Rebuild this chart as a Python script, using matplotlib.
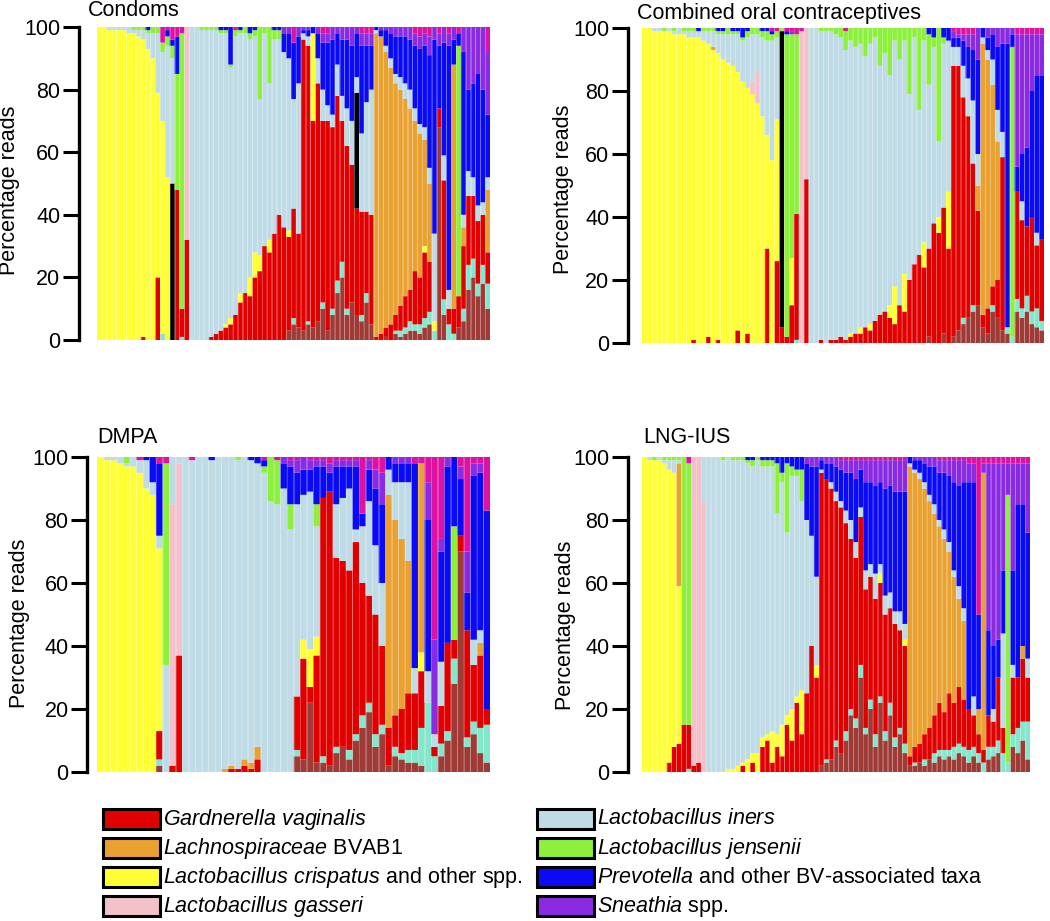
import numpy as np
import matplotlib
matplotlib.use('Agg')
import matplotlib.pyplot as plt
from matplotlib.patches import Rectangle

plt.rcParams['font.family'] = ['Liberation Sans', 'DejaVu Sans']
plt.rcParams['mathtext.fontset'] = 'custom'
plt.rcParams['mathtext.rm'] = 'Liberation Sans'
plt.rcParams['mathtext.it'] = 'Liberation Sans:italic'

# stacking order, bottom to top; whatever is left up to 100 is "other" (magenta)
order = ['brown', 'aqua', 'gv', 'black', 'crisp', 'gass', 'bvab1', 'iners', 'jens', 'prev', 'snea']
colours = {
    'brown': '#9e3b36', 'aqua': '#84e6cc', 'gv': '#e00000', 'black': '#000000',
    'crisp': '#ffff33', 'gass': '#f2c1c9', 'bvab1': '#e9a232', 'iners': '#bfdbe5',
    'jens': '#8cf03c', 'prev': '#0a0af5', 'snea': '#8a2be2', 'other': '#de12a2',
}

# ---------------- Condoms (81 samples: 19 | 23 | 15 | 12 | 12) ----------------
cond_brown = [0, 0, 0, 0, 0,  0, 0, 0, 0, 0,  0, 0, 0, 0, 0,  0, 0, 0, 0,
              0, 0, 0, 0, 0,  0, 0, 0, 0, 0,  0, 0, 0, 0, 0,  0, 0, 0, 0, 0,  3, 5, 4,
              3, 5, 4, 6, 10,  3, 8, 15, 20, 8,  12, 8, 6, 12, 5,
              0, 0, 1, 0, 2,  1, 2, 3, 3, 2,  4, 5,
              0, 68, 8, 0, 0,  4, 6, 16, 20, 14,  18, 10]
cond_aqua = [0, 0, 0, 0, 0,  0, 0, 0, 0, 0,  0, 0, 0, 2, 0,  0, 0, 1, 0,
             0, 0, 0, 0, 0,  0, 0, 0, 0, 0,  0, 0, 0, 0, 0,  0, 0, 0, 0, 0,  0, 2, 0,
             0, 1, 0, 0, 2,  0, 2, 4, 5, 2,  0, 0, 2, 3, 0,
             0, 0, 0, 0, 1,  2, 2, 3, 2, 3,  3, 4,
             3, 0, 5, 5, 2,  0, 4, 8, 6, 4,  6, 8]
cond_gv = [0, 0, 0, 0, 0,  0, 0, 0, 0, 1,  0, 0, 20, 0, 0,  0, 48, 9, 32,
           0, 0, 0, 0, 1,  2, 3, 4, 5, 8,  12, 15, 14, 20, 22,  30, 28, 34, 40, 36,  30, 35, 30,
           93, 88, 66, 76, 58,  67, 58, 59, 45, 52,  44, 34, 33, 26, 35,
           1, 2, 3, 5, 5,  8, 10, 10, 17, 15,  21, 16,
           0, 6, 38, 5, 8,  10, 20, 22, 20, 20,  16, 10]
cond_black = [0, 0, 0, 0, 0,  0, 0, 0, 0, 0,  0, 0, 0, 0, 0,  50, 0, 0, 0,
              0, 0, 0, 0, 0,  0, 0, 0, 0, 0,  0, 0, 0, 0, 0,  0, 0, 0, 0, 0,  0, 0, 0,
              0, 0, 0, 0, 0,  0, 0, 0, 0, 0,  0, 37, 0, 0, 0,
              0, 0, 0, 0, 0,  0, 0, 0, 0, 0,  0, 0,
              0, 0, 0, 0, 0,  0, 0, 0, 0, 0,  0, 0]
cond_crisp = [100, 100, 99, 99, 99,  99, 98, 98, 97, 95,  93, 90, 59, 68, 52,  0, 0, 0, 0,
              0, 0, 0, 0, 0,  0, 0, 1, 2, 0,  3, 0, 6, 8, 5,  0, 4, 0, 0, 0,  2, 0, 0,
              0, 0, 28, 0, 0,  0, 0, 0, 0, 0,  0, 0, 0, 0, 0,
              0, 0, 0, 0, 0,  0, 0, 0, 0, 0,  2, 0,
              3, 0, 0, 0, 0,  0, 0, 0, 0, 0,  0, 0]
cond_gass = [0, 0, 0, 0, 0,  0, 0, 0, 0, 0,  0, 0, 0, 0, 0,  0, 0, 0, 68,
             0, 0, 0, 0, 0,  0, 0, 0, 0, 0,  0, 0, 0, 0, 0,  0, 0, 0, 0, 0,  0, 0, 0,
             0, 0, 0, 0, 0,  0, 0, 0, 0, 0,  0, 0, 0, 0, 0,
             0, 0, 0, 0, 0,  0, 0, 0, 0, 0,  0, 0,
             0, 0, 0, 0, 0,  0, 0, 0, 0, 0,  0, 0]
cond_bvab1 = [0, 0, 0, 0, 0,  0, 0, 0, 0, 0,  0, 0, 0, 0, 0,  0, 0, 0, 0,
              0, 0, 0, 0, 0,  0, 0, 0, 0, 0,  0, 0, 0, 0, 0,  0, 0, 0, 0, 0,  0, 0, 0,
              0, 0, 0, 0, 0,  0, 0, 0, 0, 0,  0, 0, 0, 0, 0,
              97, 95, 88, 82, 74,  69, 63, 58, 48, 46,  34, 25,
              0, 0, 0, 0, 78,  0, 6, 0, 0, 0,  0, 20]
cond_iners = [0, 0, 1, 1, 1,  1, 2, 1, 2, 3,  5, 8, 19, 22, 42,  40, 0, 0, 0,
              100, 100, 99, 99, 98,  97, 95, 93, 80, 89,  83, 83, 76, 69, 50,  68, 50, 62, 56, 56,  55, 35, 48,
              2, 3, 0, 8, 10,  5, 4, 10, 8, 12,  14, 5, 25, 35, 40,
              1, 0, 2, 3, 3,  4, 5, 6, 4, 3,  4, 5,
              28, 0, 8, 6, 0,  0, 4, 8, 6, 5,  4, 4]
cond_jens = [0, 0, 0, 0, 0,  0, 0, 1, 1, 1,  1, 2, 2, 3, 3,  4, 37, 88, 0,
             0, 0, 1, 1, 1,  1, 1, 1, 1, 2,  1, 2, 2, 2, 23,  2, 18, 3, 3, 0,  0, 0, 0,
             0, 0, 0, 0, 0,  0, 0, 0, 0, 0,  0, 0, 0, 0, 0,
             0, 0, 0, 0, 0,  0, 0, 0, 0, 0,  0, 0,
             0, 0, 0, 0, 0,  80, 0, 0, 0, 0,  0, 0]
cond_prev = [0, 0, 0, 0, 0,  0, 0, 0, 0, 0,  1, 0, 0, 0, 2,  2, 12, 0, 0,
             0, 0, 0, 0, 0,  0, 1, 1, 12, 0,  1, 0, 2, 1, 0,  0, 0, 1, 1, 6,  8, 18, 15,
             1, 2, 2, 8, 15,  20, 24, 10, 18, 22,  24, 14, 28, 18, 14,
             1, 2, 5, 8, 12,  13, 15, 16, 20, 24,  26, 36,
             62, 20, 36, 78, 8,  4, 52, 26, 30, 42,  36, 20]
cond_snea = [0, 0, 0, 0, 0,  0, 0, 0, 0, 0,  0, 0, 0, 0, 0,  0, 0, 0, 0,
             0, 0, 0, 0, 0,  0, 0, 0, 0, 0,  0, 0, 0, 0, 0,  0, 0, 0, 0, 2,  2, 0, 3,
             1, 1, 0, 2, 3,  3, 4, 2, 4, 4,  6, 2, 4, 4, 4,
             0, 1, 1, 2, 3,  3, 3, 4, 4, 4,  4, 6,
             4, 4, 5, 4, 4,  0, 8, 20, 18, 15,  20, 20]

# ---------------- Combined oral contraceptives (82 samples: 28 | 6 | 29 | 19) ----------------
coc_brown = [0, 0, 0, 0, 0,  0, 0, 0, 0, 0,  0, 0, 0, 0, 0,  0, 0, 0, 0, 0,  0, 0, 0, 0, 0,  0, 0, 0,
             0, 0, 0, 0, 0,  0,
             0, 0, 0, 0, 0,  0, 0, 0, 0, 0,  0, 0, 0, 0, 0,  0, 0, 0, 0, 0,  0, 0, 0, 0, 2,  0, 0, 3, 0,
             2, 4, 6, 8, 10,  12, 5, 3, 10, 8,  4, 3, 0, 10, 8,  10, 6, 5, 4]
coc_aqua = [0, 0, 0, 0, 0,  0, 0, 0, 0, 0,  0, 0, 0, 0, 0,  0, 0, 0, 0, 0,  0, 0, 0, 0, 0,  0, 0, 0,
            0, 0, 0, 1, 0,  0,
            0, 0, 0, 0, 0,  0, 0, 0, 0, 0,  0, 0, 0, 0, 0,  0, 0, 0, 0, 0,  0, 0, 0, 0, 0,  0, 0, 0, 0,
            0, 0, 2, 0, 2,  0, 0, 0, 2, 0,  0, 2, 2, 4, 3,  5, 4, 6, 3]
coc_gv = [0, 0, 0, 0, 0,  0, 0, 0, 0, 0,  1, 0, 0, 2, 0,  1, 0, 0, 0, 4,  0, 3, 0, 0, 0,  30, 0, 26,
          5, 2, 12, 40, 0,  52,
          0, 0, 1, 0, 1,  1, 2, 1, 2, 3,  3, 5, 4, 7, 9,  10, 8, 6, 12, 10,  20, 25, 28, 24, 28,  38, 35, 40, 30,
          86, 84, 70, 64, 45,  30, 4, 8, 6, 12,  55, 0, 0, 34, 28,  22, 30, 20, 26]
coc_black = [0, 0, 0, 0, 0,  0, 0, 0, 0, 0,  0, 0, 0, 0, 0,  0, 0, 0, 0, 0,  0, 0, 0, 0, 0,  0, 0, 0,
             94, 0, 0, 0, 0,  0,
             0, 0, 0, 0, 0,  0, 0, 0, 0, 0,  0, 0, 0, 0, 0,  0, 0, 0, 0, 0,  0, 0, 0, 0, 0,  0, 0, 0, 0,
             0, 0, 0, 0, 0,  0, 0, 0, 0, 0,  0, 0, 0, 0, 0,  0, 0, 0, 0]
coc_crisp = [100, 100, 99, 99, 99,  99, 98, 98, 98, 97,  96, 97, 96, 93, 93,  91, 90, 89, 88, 82,  83, 78, 79, 76, 72,  36, 58, 45,
             0, 0, 15, 0, 0,  0,
             0, 0, 0, 0, 0,  0, 0, 0, 1, 0,  2, 0, 2, 0, 0,  0, 4, 12, 0, 12,  0, 0, 0, 8, 0,  0, 5, 0, 18,
             0, 0, 0, 0, 0,  0, 0, 0, 0, 0,  0, 0, 0, 0, 0,  0, 0, 0, 0]
coc_gass = [0, 0, 0, 0, 0,  0, 0, 0, 0, 0,  0, 0, 0, 0, 0,  0, 0, 0, 0, 0,  0, 0, 4, 10, 0,  0, 0, 0,
            0, 0, 0, 0, 99,  48,
            0, 0, 0, 0, 0,  0, 0, 0, 0, 0,  0, 0, 0, 0, 0,  0, 0, 0, 0, 0,  0, 0, 0, 0, 0,  0, 0, 0, 0,
            0, 0, 0, 0, 0,  0, 0, 0, 0, 0,  0, 0, 0, 0, 0,  0, 0, 0, 0]
coc_bvab1 = [0, 0, 0, 0, 0,  0, 0, 0, 0, 0,  0, 0, 0, 0, 1,  0, 0, 0, 0, 0,  0, 0, 0, 0, 0,  0, 0, 0,
             0, 0, 0, 0, 0,  0,
             0, 0, 0, 0, 0,  0, 0, 0, 0, 0,  0, 0, 0, 0, 0,  0, 0, 0, 0, 0,  0, 0, 0, 0, 0,  0, 0, 0, 0,
             0, 0, 0, 0, 0,  8, 86, 79, 64, 44,  0, 0, 0, 0, 0,  0, 0, 0, 0]
coc_iners = [0, 0, 1, 1, 0,  1, 1, 2, 1, 2,  2, 2, 3, 4, 5,  6, 8, 9, 10, 12,  13, 16, 15, 12, 25,  30, 38, 26,
             0, 0, 0, 0, 0,  0,
             100, 100, 98, 99, 98,  97, 95, 92, 93, 91,  90, 86, 89, 90, 79,  82, 73, 78, 78, 74,  59, 72, 46, 64, 52,  56, 24, 52, 48,
             6, 6, 10, 12, 20,  10, 2, 3, 8, 10,  8, 0, 0, 0, 6,  0, 0, 4, 0]
coc_jens = [0, 0, 0, 0, 1,  0, 1, 0, 1, 1,  1, 0, 1, 1, 1,  1, 1, 2, 1, 1,  1, 2, 2, 2, 2,  3, 2, 2,
            1, 96, 71, 57, 0,  0,
            0, 0, 1, 1, 1,  2, 3, 6, 4, 6,  5, 9, 5, 3, 12,  8, 15, 4, 10, 4,  21, 3, 26, 4, 16,  3, 36, 2, 0,
            0, 0, 0, 0, 0,  0, 0, 0, 0, 0,  0, 0, 92, 0, 0,  0, 0, 0, 0]
coc_prev = [0, 0, 0, 0, 0,  0, 0, 0, 0, 0,  0, 1, 0, 0, 0,  1, 1, 0, 1, 1,  3, 1, 0, 0, 1,  1, 1, 0,
            0, 1, 0, 0, 0,  0,
            0, 0, 0, 0, 0,  0, 0, 0, 0, 0,  0, 0, 0, 0, 0,  0, 0, 0, 0, 0,  0, 0, 0, 0, 2,  3, 0, 3, 4,
            3, 3, 8, 10, 16,  30, 3, 4, 8, 20,  28, 90, 4, 8, 15,  25, 40, 50, 52]
coc_snea = [0, 0, 0, 0, 0,  0, 0, 0, 0, 0,  0, 0, 0, 0, 0,  0, 0, 0, 0, 0,  0, 0, 0, 0, 0,  0, 0, 0,
            0, 0, 1, 0, 0,  0,
            0, 0, 0, 0, 0,  0, 0, 0, 0, 0,  0, 0, 0, 0, 0,  0, 0, 0, 0, 0,  0, 0, 0, 0, 0,  0, 0, 0, 0,
            2, 1, 2, 4, 5,  10, 0, 3, 2, 6,  5, 5, 2, 42, 38,  36, 18, 13, 13]

# ---------------- DMPA (60 samples: 10 | 3 | 17 | 14 | 4 | 12) ----------------
dmpa_brown = [0, 0, 0, 0, 0,  0, 0, 0, 0, 2,
              0, 0, 0,
              0, 0, 0, 0, 0,  0, 0, 0, 0, 0,  0, 0, 0, 0, 0,  0, 0,
              5, 4, 22, 3, 3,  2, 6, 8, 4, 10,  14, 19, 8, 12,
              2, 5, 4, 3,
              3, 2, 0, 0, 5,  10, 28, 70, 8, 12,  6, 3]
dmpa_aqua = [0, 0, 0, 0, 0,  0, 0, 0, 0, 2,
             0, 0, 0,
             0, 0, 0, 0, 0,  0, 0, 0, 0, 0,  0, 0, 0, 0, 0,  0, 0,
             2, 0, 0, 0, 2,  0, 2, 0, 3, 2,  4, 3, 4, 3,
             0, 3, 2, 4,
             4, 12, 22, 5, 4,  3, 8, 0, 3, 4,  8, 12]
dmpa_gv = [0, 0, 0, 0, 0,  0, 0, 0, 0, 9,
           0, 2, 37,
           0, 0, 0, 0, 0,  0, 0, 1, 1, 2,  1, 4, 0, 0, 0,  0, 0,
           17, 32, 5, 34, 82,  87, 60, 59, 57, 61,  42, 34, 38, 25,
           12, 10, 14, 18,
           18, 18, 0, 3, 12,  28, 6, 5, 34, 18,  23, 5]
dmpa_crisp = [100, 99, 99, 98, 97,  97, 95, 90, 88, 58,
              0, 0, 0,
              0, 0, 0, 0, 0,  0, 0, 0, 0, 0,  0, 0, 0, 0, 0,  0, 0,
              0, 6, 12, 6, 0,  0, 0, 0, 0, 0,  0, 0, 0, 0,
              0, 0, 0, 0,
              0, 6, 0, 0, 0,  0, 0, 0, 0, 0,  0, 0]
dmpa_gass = [0, 0, 0, 0, 0,  0, 0, 0, 0, 0,
             0, 83, 61,
             0, 0, 0, 0, 0,  0, 0, 0, 0, 0,  0, 0, 0, 0, 0,  0, 0,
             0, 0, 0, 0, 0,  0, 0, 0, 0, 0,  0, 0, 0, 0,
             0, 0, 0, 0,
             0, 0, 0, 0, 0,  0, 0, 0, 0, 0,  0, 0]
dmpa_bvab1 = [0, 0, 0, 0, 0,  0, 0, 0, 0, 0,
              0, 0, 0,
              0, 0, 0, 0, 0,  0, 1, 1, 0, 2,  2, 4, 0, 0, 0,  0, 0,
              0, 0, 0, 0, 0,  0, 0, 0, 0, 0,  0, 0, 0, 0,
              74, 62, 54, 42,
              0, 60, 0, 0, 0,  0, 0, 0, 0, 0,  4, 0]
dmpa_iners = [0, 1, 1, 2, 1,  3, 4, 9, 4, 4,
              34, 15, 2,
              100, 99, 100, 100, 99,  100, 99, 98, 98, 96,  96, 90, 95, 86, 85,  90, 77,
              61, 46, 50, 35, 0,  0, 17, 20, 26, 4,  18, 30, 22, 20,
              8, 12, 18, 25,
              8, 0, 10, 4, 14,  0, 0, 0, 0, 8,  4, 0]
dmpa_jens = [0, 0, 0, 0, 2,  0, 0, 0, 0, 0,
             64, 0, 0,
             0, 0, 0, 0, 0,  0, 0, 0, 1, 0,  0, 0, 2, 14, 14,  0, 8,
             0, 0, 0, 7, 0,  0, 0, 0, 0, 0,  0, 0, 0, 0,
             0, 0, 0, 0,
             0, 0, 0, 0, 0,  0, 36, 0, 0, 0,  0, 0]
dmpa_prev = [0, 0, 0, 0, 0,  0, 0, 1, 8, 23,
             0, 0, 0,
             0, 0, 0, 0, 1,  0, 0, 0, 0, 0,  1, 2, 2, 0, 0,  8, 12,
             10, 8, 7, 12, 10,  6, 12, 10, 7, 20,  4, 10, 18, 25,
             4, 6, 6, 6,
             65, 0, 48, 0, 35,  56, 22, 18, 12, 52,  50, 63]
dmpa_snea = [0, 0, 0, 0, 0,  0, 0, 0, 0, 0,
             0, 0, 0,
             0, 0, 0, 0, 0,  0, 0, 0, 0, 0,  0, 0, 0, 0, 0,  2, 2,
             4, 4, 3, 2, 2,  3, 2, 2, 2, 2,  0, 3, 6, 10,
             0, 2, 2, 2,
             0, 0, 12, 30, 4,  3, 0, 4, 13, 4,  3, 0]

# ---------------- LNG-IUS (79 samples: 8 | 5 | 23 | 18 | 11 | 14) ----------------
lng_brown = [0, 0, 0, 0, 0,  0, 0, 0,
             0, 0, 0, 0, 0,
             0, 0, 0, 0, 0,  0, 0, 0, 0, 0,  0, 0, 0, 0, 0,  0, 0, 0, 0, 0,  0, 0, 0,
             2, 3, 4, 8, 6,  10, 18, 14, 30, 12,  20, 8, 22, 10, 18,  8, 12, 6,
             2, 2, 3, 2, 4,  3, 5, 4, 5, 4,  6,
             5, 3, 5, 3, 0,  4, 5, 6, 0, 0,  8, 6, 10, 4]
lng_aqua = [0, 0, 0, 0, 0,  0, 0, 0,
            0, 1, 0, 0, 0,
            0, 0, 0, 0, 0,  0, 0, 0, 0, 0,  0, 0, 0, 0, 0,  0, 0, 0, 0, 0,  0, 0, 0,
            0, 1, 0, 2, 0,  3, 2, 3, 4, 2,  3, 4, 2, 3, 4,  3, 2, 3,
            0, 1, 0, 2, 0,  3, 2, 3, 2, 4,  3,
            3, 4, 3, 3, 3,  4, 3, 4, 6, 3,  4, 8, 6, 12]
lng_gv = [0, 0, 0, 0, 0,  3, 8, 9,
          15, 14, 2, 3, 0,
          0, 0, 0, 0, 0,  0, 0, 2, 0, 3,  0, 8, 10, 3, 8,  5, 15, 10, 22, 12,  25, 40, 30,
          93, 89, 86, 76, 78,  66, 54, 51, 47, 44,  39, 43, 36, 37, 30,  36, 31, 31,
          3, 5, 6, 8, 10,  12, 15, 12, 18, 14,  18,
          15, 13, 10, 6, 4,  10, 8, 20, 8, 0,  18, 16, 20, 14]
lng_crisp = [100, 99, 99, 99, 98,  93, 87, 50,
             0, 0, 0, 0, 0,
             0, 0, 0, 0, 1,  1, 2, 1, 4, 3,  6, 3, 2, 10, 4,  10, 3, 10, 2, 14,  0, 0, 4,
             0, 0, 0, 0, 0,  0, 0, 0, 0, 0,  0, 0, 3, 0, 0,  0, 0, 2,
             0, 0, 0, 0, 0,  0, 0, 0, 0, 0,  0,
             0, 0, 0, 0, 0,  0, 0, 0, 0, 0,  0, 0, 0, 0]
lng_gass = [0, 0, 0, 0, 0,  0, 0, 0,
            0, 0, 98, 97, 86,
            0, 0, 0, 0, 0,  0, 0, 0, 0, 0,  0, 0, 0, 0, 0,  0, 0, 0, 0, 0,  0, 0, 0,
            0, 0, 0, 0, 0,  0, 0, 0, 0, 0,  0, 0, 0, 0, 0,  0, 0, 0,
            0, 0, 0, 0, 0,  0, 0, 0, 0, 0,  0,
            0, 0, 0, 0, 0,  0, 0, 0, 0, 0,  0, 0, 0, 0]
lng_bvab1 = [0, 0, 0, 0, 0,  0, 0, 39,
             0, 0, 0, 0, 0,
             0, 0, 0, 0, 0,  0, 0, 0, 0, 0,  0, 0, 0, 0, 0,  0, 0, 0, 0, 0,  0, 0, 0,
             0, 0, 0, 0, 0,  0, 0, 0, 0, 0,  0, 0, 0, 0, 0,  0, 0, 0,
             92, 87, 84, 78, 72,  64, 56, 55, 45, 40,  28,
             25, 0, 0, 8, 88,  0, 0, 0, 0, 0,  0, 0, 4, 0]
lng_iners = [0, 1, 0, 1, 1,  3, 4, 1,
             0, 0, 0, 0, 14,
             100, 100, 100, 99, 99,  98, 97, 96, 94, 91,  93, 86, 85, 84, 70,  77, 58, 74, 70, 60,  55, 35, 28,
             1, 0, 2, 3, 2,  4, 6, 5, 3, 6,  4, 8, 3, 6, 5,  4, 6, 5,
             1, 1, 2, 2, 2,  3, 2, 3, 3, 2,  4,
             4, 0, 6, 0, 0,  0, 4, 0, 30, 0,  4, 0, 0, 6]
lng_jens = [0, 0, 1, 0, 1,  1, 1, 1,
            85, 83, 0, 0, 0,
            0, 0, 0, 1, 0,  1, 1, 1, 1, 2,  1, 2, 2, 2, 16,  3, 22, 3, 2, 10,  0, 0, 0,
            0, 0, 0, 0, 0,  0, 0, 0, 0, 0,  0, 0, 0, 0, 0,  0, 0, 0,
            0, 0, 0, 0, 0,  0, 0, 0, 0, 0,  0,
            0, 0, 0, 0, 0,  0, 0, 0, 0, 85,  0, 0, 0, 0]
lng_prev = [0, 0, 0, 0, 0,  0, 0, 0,
            0, 0, 0, 0, 0,
            0, 0, 0, 0, 0,  0, 0, 0, 1, 1,  0, 1, 1, 1, 2,  5, 2, 3, 4, 4,  18, 22, 35,
            3, 5, 6, 8, 10,  12, 15, 20, 12, 28,  26, 28, 26, 34, 34,  38, 38, 42,
            2, 3, 4, 6, 9,  12, 15, 18, 21, 28,  32,
            40, 72, 68, 30, 0,  27, 20, 12, 20, 0,  30, 55, 45, 40]
lng_snea = [0, 0, 0, 0, 0,  0, 0, 0,
            0, 0, 0, 0, 0,
            0, 0, 0, 0, 0,  0, 0, 0, 0, 0,  0, 0, 0, 0, 0,  0, 0, 0, 0, 0,  2, 3, 3,
            1, 2, 2, 3, 3,  4, 4, 6, 3, 7,  7, 8, 7, 9, 8,  10, 10, 10,
            0, 1, 1, 2, 3,  3, 4, 4, 5, 7,  8,
            7, 6, 6, 0, 3,  53, 58, 56, 34, 10,  34, 13, 13, 22]

yticks = [0, 20, 40, 60, 80, 100]

legend_items = [
    ('gv', r'$\mathit{Gardnerella\ vaginalis}$'),
    ('bvab1', r'$\mathit{Lachnospiraceae}$ BVAB1'),
    ('crisp', r'$\mathit{Lactobacillus\ crispatus}$ and other spp.'),
    ('gass', r'$\mathit{Lactobacillus\ gasseri}$'),
    ('iners', r'$\mathit{Lactobacillus\ iners}$'),
    ('jens', r'$\mathit{Lactobacillus\ jensenii}$'),
    ('prev', r'$\mathit{Prevotella}$ and other BV-associated taxa'),
    ('snea', r'$\mathit{Sneathia}$ spp.'),
]

condoms = dict(brown=cond_brown, aqua=cond_aqua, gv=cond_gv, black=cond_black, crisp=cond_crisp,
               gass=cond_gass, bvab1=cond_bvab1, iners=cond_iners, jens=cond_jens,
               prev=cond_prev, snea=cond_snea)
coc = dict(brown=coc_brown, aqua=coc_aqua, gv=coc_gv, black=coc_black, crisp=coc_crisp,
           gass=coc_gass, bvab1=coc_bvab1, iners=coc_iners, jens=coc_jens,
           prev=coc_prev, snea=coc_snea)
dmpa = dict(brown=dmpa_brown, aqua=dmpa_aqua, gv=dmpa_gv, crisp=dmpa_crisp,
            gass=dmpa_gass, bvab1=dmpa_bvab1, iners=dmpa_iners, jens=dmpa_jens,
            prev=dmpa_prev, snea=dmpa_snea)
lng = dict(brown=lng_brown, aqua=lng_aqua, gv=lng_gv, crisp=lng_crisp,
           gass=lng_gass, bvab1=lng_bvab1, iners=lng_iners, jens=lng_jens,
           prev=lng_prev, snea=lng_snea)

# check list lengths before drawing anything
problems = []
for pname, panel in [('condoms', condoms), ('coc', coc), ('dmpa', dmpa), ('lng', lng)]:
    n = len(panel['iners'])
    for key, vals in panel.items():
        if len(vals) != n:
            problems.append('%s %s: %d (iners %d)' % (pname, key, len(vals), n))
if problems:
    raise ValueError('; '.join(problems))

W, H = 1050, 921
fig = plt.figure(figsize=(W / 100, H / 100), dpi=100)
FS = 15.5


def px_rect(x0, x1, ytop, ybot):
    return [x0 / W, 1 - ybot / H, (x1 - x0) / W, (ybot - ytop) / H]


def draw_panel(rect, outward, series):
    ax = fig.add_axes(rect)
    n = len(series['iners'])
    x = np.arange(n)
    bottom = np.zeros(n)
    for key in order:
        if key not in series:
            continue
        vals = np.array(series[key], dtype=float)
        ax.bar(x, vals, 1.0, bottom=bottom, color=colours[key], linewidth=0, snap=False)
        bottom += vals
    rest = np.clip(100 - bottom, 0, None)
    ax.bar(x, rest, 1.0, bottom=bottom, color=colours['other'], linewidth=0, snap=False)
    # faint light seams between samples
    ax.vlines(x[:-1] + 0.5, 0, 100, colors='white', alpha=0.28, linewidth=0.6)
    ax.set_xlim(-0.5, n - 0.5)
    ax.set_ylim(0, 100)
    for s in ['top', 'right', 'bottom']:
        ax.spines[s].set_visible(False)
    ax.spines['left'].set_position(('outward', outward))
    ax.spines['left'].set_linewidth(2.4)
    ax.set_xticks([])
    ax.set_yticks(yticks)
    ax.tick_params(axis='y', length=11.5, width=2.2, pad=2, labelsize=FS)
    return ax


draw_panel(px_rect(97, 490, 27, 340), 13, condoms)
draw_panel(px_rect(642, 1044, 28, 343), 10, coc)
draw_panel(px_rect(97, 490, 457, 772), 7, dmpa)
draw_panel(px_rect(642, 1030, 457, 772), 10, lng)

# panel titles
for label, xp, yp in [('Condoms', 88, 10), ('Combined oral contraceptives', 637, 13),
                      ('DMPA', 97, 437), ('LNG-IUS', 643, 437)]:
    fig.text(xp / W, 1 - yp / H, label, fontsize=FS, ha='left', va='center')

for xp, yp in [(10, 190), (564, 189), (20, 623), (566, 625)]:
    fig.text(xp / W, 1 - yp / H, 'Percentage reads', fontsize=FS, rotation=90,
             ha='center', va='center')

# legend, two columns of four
rows = [819, 848, 877, 906]
cols = [103, 537]
for i, (key, label) in enumerate(legend_items):
    cx = cols[i // 4]
    cy = rows[i % 4]
    fig.add_artist(Rectangle((cx / W, 1 - (cy + 10) / H), 57 / W, 20 / H,
                             transform=fig.transFigure, facecolor=colours[key],
                             edgecolor='black', linewidth=2.2))
    fig.text((cx + 60) / W, 1 - cy / H, label, fontsize=15.5, ha='left', va='center')

fig.savefig('out.png', dpi=100)
